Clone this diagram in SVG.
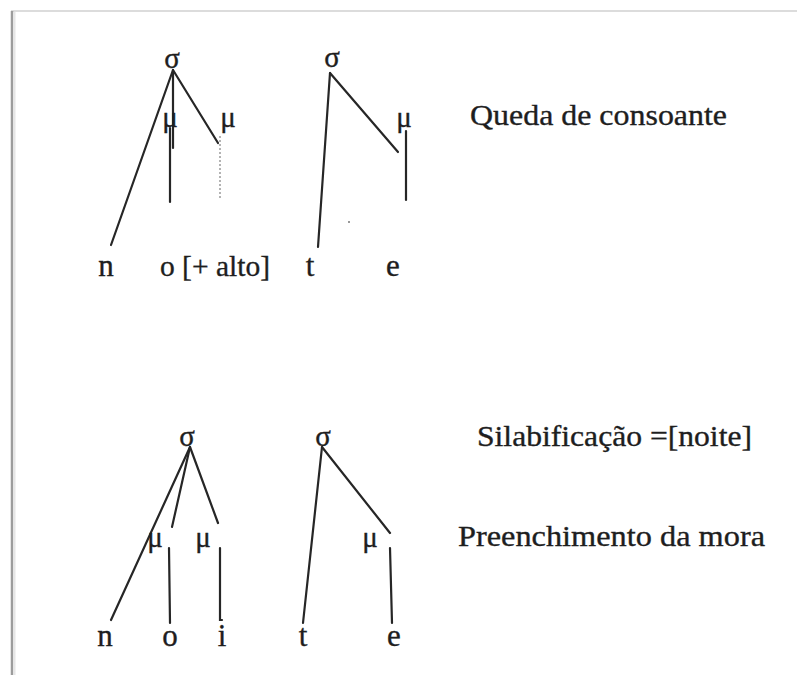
<svg xmlns="http://www.w3.org/2000/svg" width="797" height="675" viewBox="0 0 797 675">
<style>
text{font-family:"Liberation Serif","Times New Roman",serif;fill:#1e1e1e;stroke:#1e1e1e;stroke-width:0.35}
.seg{font-size:31px;text-anchor:middle}
.gk{font-size:29px;text-anchor:middle}
.lab{font-size:30px}
.ln{stroke:#262626;stroke-width:2.2;fill:none;stroke-linecap:round}
.dot{stroke:#9a9a9a;stroke-width:1.5;stroke-dasharray:2 2;fill:none}
</style>
<rect width="797" height="675" fill="#fff"/>
<g id="frame">
<line x1="11" y1="11" x2="797" y2="11" stroke="#dcdcdc" stroke-width="2"/>
<line x1="12" y1="11" x2="12" y2="675" stroke="#9c9c9c" stroke-width="2.5"/>
<line x1="14.5" y1="12" x2="14.5" y2="675" stroke="#e6e6e6" stroke-width="2"/>
</g>
<g id="connectors">
<line class="ln" x1="173" y1="70" x2="111" y2="245"/>
<line class="ln" x1="173" y1="70" x2="173" y2="148"/>
<line class="ln" x1="170" y1="128" x2="170" y2="202"/>
<line class="ln" x1="173" y1="70" x2="218" y2="143"/>
<line class="dot" x1="220" y1="136" x2="220" y2="200"/>
<line class="ln" x1="330" y1="73" x2="318" y2="247"/>
<line class="ln" x1="330" y1="73" x2="398" y2="152"/>
<line class="ln" x1="406" y1="131" x2="406" y2="200"/>
<circle cx="349" cy="222" r="1" fill="#777"/>
<line class="ln" x1="190" y1="447" x2="111" y2="620"/>
<line class="ln" x1="190" y1="447" x2="172" y2="527"/>
<line class="ln" x1="190" y1="447" x2="218" y2="523"/>
<line class="ln" x1="169" y1="548" x2="170" y2="623"/>
<polyline class="ln" points="220,548 220,620 222,620"/>
<line class="ln" x1="322" y1="447" x2="303" y2="623"/>
<line class="ln" x1="322" y1="447" x2="390" y2="533"/>
<line class="ln" x1="390" y1="548" x2="392" y2="623"/>
</g>
<g id="tree1">
<text class="gk" x="172" y="68">σ</text>
<text class="gk" x="170" y="127">μ</text>
<text class="gk" x="228" y="127">μ</text>
<text class="seg" x="106" y="276">n</text>
<text class="lab" x="160" y="276" textLength="110" lengthAdjust="spacingAndGlyphs">o [+ alto]</text>
</g>
<g id="tree2">
<text class="gk" x="332" y="67">σ</text>
<text class="gk" x="404" y="127">μ</text>
<text class="seg" x="310" y="276">t</text>
<text class="seg" x="393" y="276">e</text>
</g>
<g id="tree3">
<text class="gk" x="187" y="446">σ</text>
<text class="gk" x="155" y="547">μ</text>
<text class="gk" x="203" y="547">μ</text>
<text class="seg" x="105" y="646">n</text>
<text class="seg" x="170" y="646">o</text>
<text class="seg" x="222" y="646">i</text>
</g>
<g id="tree4">
<text class="gk" x="323" y="446">σ</text>
<text class="gk" x="370" y="547">μ</text>
<text class="seg" x="303" y="646">t</text>
<text class="seg" x="394" y="646">e</text>
</g>
<g id="labels">
<text class="lab" x="470" y="125" textLength="257" lengthAdjust="spacingAndGlyphs">Queda de consoante</text>
<text class="lab" x="477" y="446" textLength="275" lengthAdjust="spacingAndGlyphs">Silabificação =[noite]</text>
<text class="lab" x="458" y="546" textLength="307" lengthAdjust="spacingAndGlyphs">Preenchimento da mora</text>
</g>
</svg>
